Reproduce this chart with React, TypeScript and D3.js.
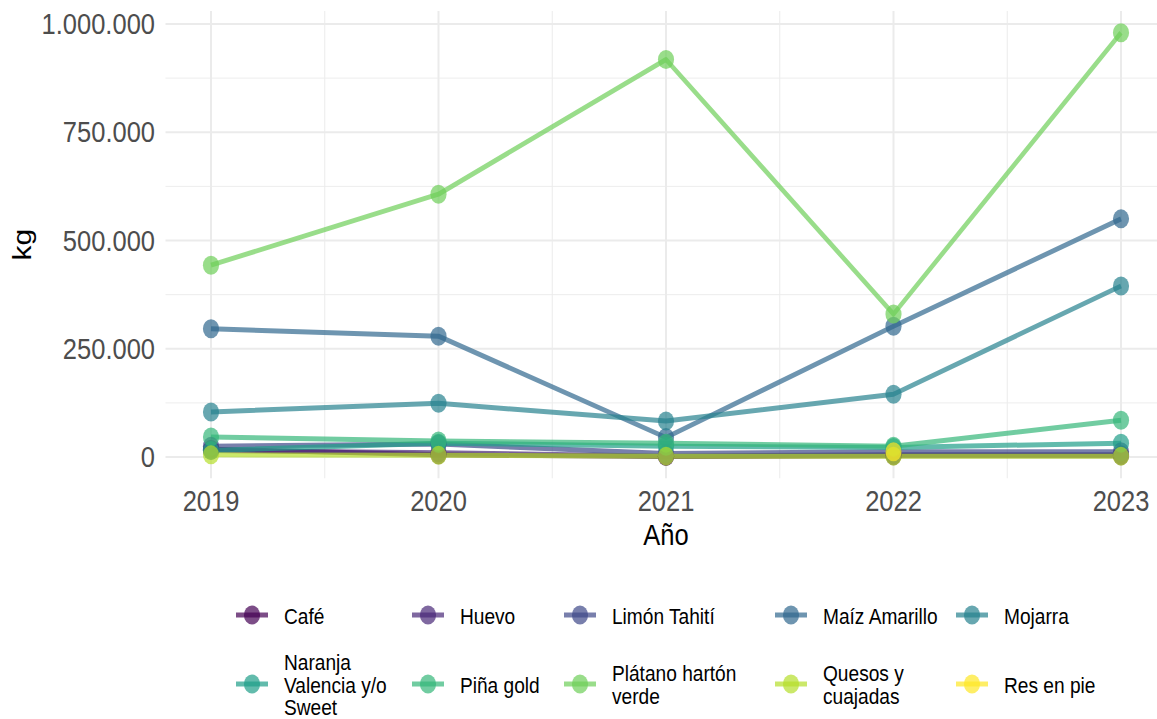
import React from 'react';
import * as d3 from 'd3';

// ---- data ----
const years = [2019, 2020, 2021, 2022, 2023];
const products = [
  'Café', 'Huevo', 'Limón Tahití', 'Maíz Amarillo', 'Mojarra',
  'Naranja Valencia y/o Sweet', 'Piña gold', 'Plátano hartón verde', 'Quesos y cuajadas', 'Res en pie',
];
const legendLabels = [
  ['Café'], ['Huevo'], ['Limón Tahití'], ['Maíz Amarillo'], ['Mojarra'],
  ['Naranja', 'Valencia y/o', 'Sweet'], ['Piña gold'], ['Plátano hartón', 'verde'], ['Quesos y', 'cuajadas'], ['Res en pie'],
];
const cafe = [18000, 5000, 1000, 3000, 3000];
const huevo = [15000, 10000, 2000, 5000, 5000];
const limon = [25000, 30000, 8000, 12000, 12000];
const maiz = [296000, 279000, 45000, 302000, 550000];
const mojarra = [104000, 124000, 83000, 145000, 395000];
const naranja = [15000, 32000, 25000, 22000, 32000];
const pina = [46000, 37000, 32000, 25000, 85000];
const platano = [443000, 607000, 918000, 330000, 980000];
const quesos = [5000, 4000, 2000, 2000, 2000];
const res: (number | null)[] = [null, null, null, 12000, null];
const seriesValues: (number | null)[][] = [cafe, huevo, limon, maiz, mojarra, naranja, pina, platano, quesos, res];
const yTicks = [0, 250000, 500000, 750000, 1000000];
const yMinor = [125000, 375000, 625000, 875000];

// ---- layout ----
const S = 0.85; // horizontal squash of the reference
const W = 1157, H = 719;
const VW = W / S;
const sx = (px: number) => px / S;

const fmt = d3.formatLocale({ decimal: ',', thousands: '.', grouping: [3], currency: ['', ''] }).format(',d');

export default function App() {
  const x = d3.scaleLinear().domain([2019, 2023]).range([sx(211), sx(1121)]);
  const y = d3.scaleLinear().domain([0, 1000000]).range([457, 24]);
  const panelLeft = x(2018.8), panelRight = x(2023.2);
  const panelTop = y(1030000), panelBottom = y(-49000);
  const color = (i: number) => d3.interpolateViridis(i / 9);
  const line = d3.line<[number, number | null]>()
    .defined(d => d[1] != null)
    .x(d => x(d[0]))
    .y(d => y(d[1] as number));
  const xMinor = [2019.5, 2020.5, 2021.5, 2022.5];

  const legendKeyX = [252, 428, 580, 791, 972];
  const legendRowY = [615, 684];
  const lineH = 22.5;

  return (
    <svg width={W} height={H} viewBox={`0 0 ${VW} ${H}`} preserveAspectRatio="none"
      style={{ position: 'absolute', left: 0, top: 0, background: '#fff' }}
      fontFamily="'Liberation Sans', Arial, sans-serif">
      {/* grid */}
      <g>
        {yMinor.map(v => (
          <line key={'ym' + v} x1={panelLeft} x2={panelRight} y1={y(v)} y2={y(v)} stroke="#EBEBEB" strokeWidth={1} />
        ))}
        {xMinor.map(v => (
          <line key={'xm' + v} x1={x(v)} x2={x(v)} y1={panelTop} y2={panelBottom} stroke="#EBEBEB" strokeWidth={1.2} />
        ))}
        {yTicks.map(v => (
          <line key={'yM' + v} x1={panelLeft} x2={panelRight} y1={y(v)} y2={y(v)} stroke="#EBEBEB" strokeWidth={2} />
        ))}
        {years.map(v => (
          <line key={'xM' + v} x1={x(v)} x2={x(v)} y1={panelTop} y2={panelBottom} stroke="#EBEBEB" strokeWidth={2.4} />
        ))}
      </g>
      {/* lines */}
      <g>
        {seriesValues.map((vals, i) => (
          <path key={'l' + i} d={line(years.map((yr, j) => [yr, vals[j]] as [number, number | null])) || ''}
            fill="none" stroke={color(i)} strokeOpacity={0.7} strokeWidth={5} strokeLinejoin="round" />
        ))}
      </g>
      {/* points */}
      <g>
        {seriesValues.map((vals, i) => (
          <g key={'p' + i}>
            {vals.map((v, j) => v == null ? null : (
              <ellipse key={j} cx={x(years[j])} cy={y(v)} rx={9.5} ry={9.5} fill={color(i)} fillOpacity={0.7} />
            ))}
          </g>
        ))}
      </g>
      {/* y axis */}
      <g fontSize={30} fill="#4D4D4D">
        {yTicks.map(v => (
          <text key={'yt' + v} x={sx(155)} y={y(v)} textAnchor="end" dominantBaseline="central">{fmt(v)}</text>
        ))}
      </g>
      {/* x axis */}
      <g fontSize={30} fill="#4D4D4D">
        {years.map(v => (
          <text key={'xt' + v} x={x(v)} y={511} textAnchor="middle">{v}</text>
        ))}
      </g>
      <text x={sx(666)} y={545} textAnchor="middle" fontSize={30} fill="#000">Año</text>
      <text transform={`translate(${sx(31)},${(panelTop + panelBottom) / 2}) rotate(-90)`} textAnchor="middle" fontSize={30} fill="#000">kg</text>
      {/* legend */}
      <g>
        {products.map((p, i) => {
          const col = i % 5, row = Math.floor(i / 5);
          const cx = sx(legendKeyX[col]);
          const cy = legendRowY[row];
          const lines = legendLabels[i];
          const y0 = cy - ((lines.length - 1) * lineH) / 2;
          return (
            <g key={'lg' + i}>
              <line x1={cx - sx(16)} x2={cx + sx(16)} y1={cy} y2={cy} stroke={color(i)} strokeOpacity={0.7} strokeWidth={5} />
              <ellipse cx={cx} cy={cy} rx={9.5} ry={9.5} fill={color(i)} fillOpacity={0.7} />
              <text x={cx + sx(32)} y={y0} fontSize={22.5} fill="#000" dominantBaseline="central">
                {lines.map((t, k) => (
                  <tspan key={k} x={cx + sx(32)} y={y0 + k * lineH}>{t}</tspan>
                ))}
              </text>
            </g>
          );
        })}
      </g>
    </svg>
  );
}
